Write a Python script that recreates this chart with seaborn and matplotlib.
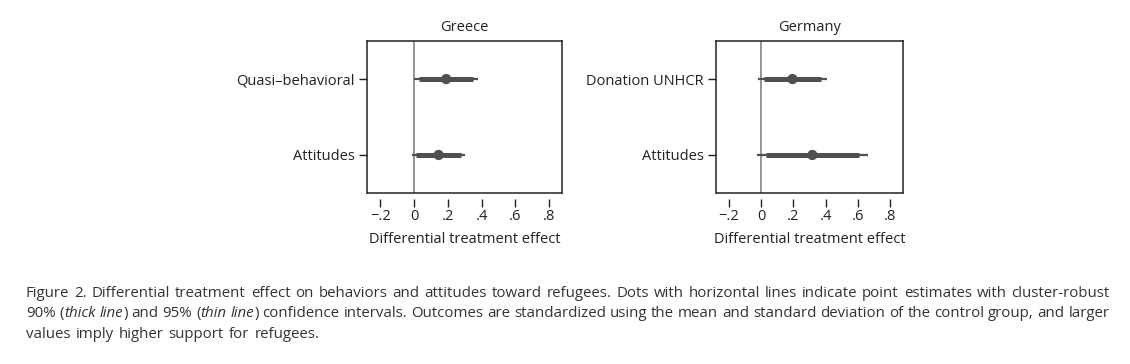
import numpy as np
import pandas as pd
import matplotlib
matplotlib.use("Agg")
import matplotlib.pyplot as plt
import seaborn as sns

# Datos (estimaciones puntuales e intervalos)
greece_outcomes = ["Quasi\u2013behavioral", "Attitudes"]
greece_est = [0.19, 0.145]
greece_lo90 = [0.03, 0.01]
greece_hi90 = [0.35, 0.275]
greece_lo95 = [0.0, -0.015]
greece_hi95 = [0.38, 0.30]

germany_outcomes = ["Donation UNHCR", "Attitudes"]
germany_est = [0.195, 0.318]
germany_lo90 = [0.016, 0.03]
germany_hi90 = [0.374, 0.605]
germany_lo95 = [-0.016, -0.025]
germany_hi95 = [0.41, 0.66]

x_ticks = [-0.2, 0, 0.2, 0.4, 0.6, 0.8]
x_ticklabels = ["\u2212.2", "0", ".2", ".4", ".6", ".8"]

# Pie de figura: palabras entre * van en cursiva
caption = [
    "Figure 2. Differential treatment effect on behaviors and attitudes toward refugees. Dots with horizontal lines indicate point estimates with cluster-robust",
    "90% (*thick* *line*) and 95% (*thin* *line*) confidence intervals. Outcomes are standardized using the mean and standard deviation of the control group, and larger",
    "values imply higher support for refugees.",
]

sns.set_style("white")
plt.rcParams['font.family'] = ['Open Sans', 'DejaVu Sans']

fig = plt.figure(figsize=(11.3, 3.64), dpi=100)
ax1 = fig.add_axes([0.325, 0.470, 0.1726, 0.417])
ax2 = fig.add_axes([0.6336, 0.470, 0.1655, 0.417])

dot_color = "#505050"


def panel(ax, title, outcomes, est, lo90, hi90, lo95, hi95):
    df = pd.DataFrame({"outcome": outcomes, "est": est, "lo90": lo90, "hi90": hi90,
                       "lo95": lo95, "hi95": hi95})
    df["pos"] = np.arange(len(df))
    ax.axvline(0, color="#8c8c8c", lw=1.3, zorder=1)
    ax.hlines(df["pos"], df["lo95"], df["hi95"], color=dot_color, lw=1.6, zorder=2)
    ax.hlines(df["pos"], df["lo90"], df["hi90"], color=dot_color, lw=3.6, zorder=3)
    sns.scatterplot(data=df, x="est", y="pos", ax=ax, color=dot_color, s=55,
                    edgecolor="none", zorder=4, legend=False)
    ax.set_ylim(1.5, -0.5)
    ax.set_xlim(-0.278, 0.878)
    ax.set_yticks(df["pos"])
    ax.set_yticklabels(df["outcome"])
    ax.set_xticks(x_ticks)
    ax.set_xticklabels(x_ticklabels)
    ax.set_xlabel("Differential treatment effect", fontsize=10.5, labelpad=6, color="#222222")
    ax.set_ylabel("")
    ax.set_title(title, fontsize=10.5, pad=7, color="#222222")
    ax.tick_params(axis="both", direction="out", length=5.5, width=1.0, colors="#222222",
                   labelsize=10.5, left=True, bottom=True)
    ax.tick_params(axis="x", pad=1.5)
    for side in ["top", "left", "right"]:
        ax.spines[side].set_visible(True)
        ax.spines[side].set_color("#222222")
        ax.spines[side].set_linewidth(1.1)
    # eje x separado de la caja, como en Stata
    ax.spines["bottom"].set_position(("outward", 4.5))
    ax.spines["bottom"].set_visible(False)
    ax.plot([0, 1], [0, 0], transform=ax.transAxes, color="#222222", lw=1.1, clip_on=False)


panel(ax1, "Greece", greece_outcomes, greece_est, greece_lo90, greece_hi90, greece_lo95, greece_hi95)
panel(ax2, "Germany", germany_outcomes, germany_est, germany_lo90, germany_hi90, germany_lo95, germany_hi95)

# texto justificado a mano, palabra por palabra
renderer = fig.canvas.get_renderer()
fig_w = fig.bbox.width
x0, x1 = 0.023, 0.982
cap_size = 10.8
for i, (line, y) in enumerate(zip(caption, [0.184, 0.128, 0.0714])):
    words = line.split(" ")
    texts = []
    for w in words:
        parts = w.split("*")
        if len(parts) == 3:
            # palabra con parte en cursiva, p.ej. (*thick*
            pieces = [(parts[0], "normal"), (parts[1], "italic"), (parts[2], "normal")]
        else:
            pieces = [(w, "normal")]
        group = []
        for txt, st in pieces:
            if txt:
                group.append(fig.text(0, y, txt, fontsize=cap_size, style=st,
                                      color="#333333", va="baseline", ha="left"))
        texts.append(group)
    widths = [[t.get_window_extent(renderer).width / fig_w for t in g] for g in texts]
    total = sum(sum(w) for w in widths)
    if i < len(caption) - 1:
        gap = (x1 - x0 - total) / (len(texts) - 1)
    else:
        gap = 0.0045
    x = x0
    for g, wl in zip(texts, widths):
        for t, w in zip(g, wl):
            t.set_x(x)
            x += w
        x += gap

fig.savefig("out.png", dpi=100)
